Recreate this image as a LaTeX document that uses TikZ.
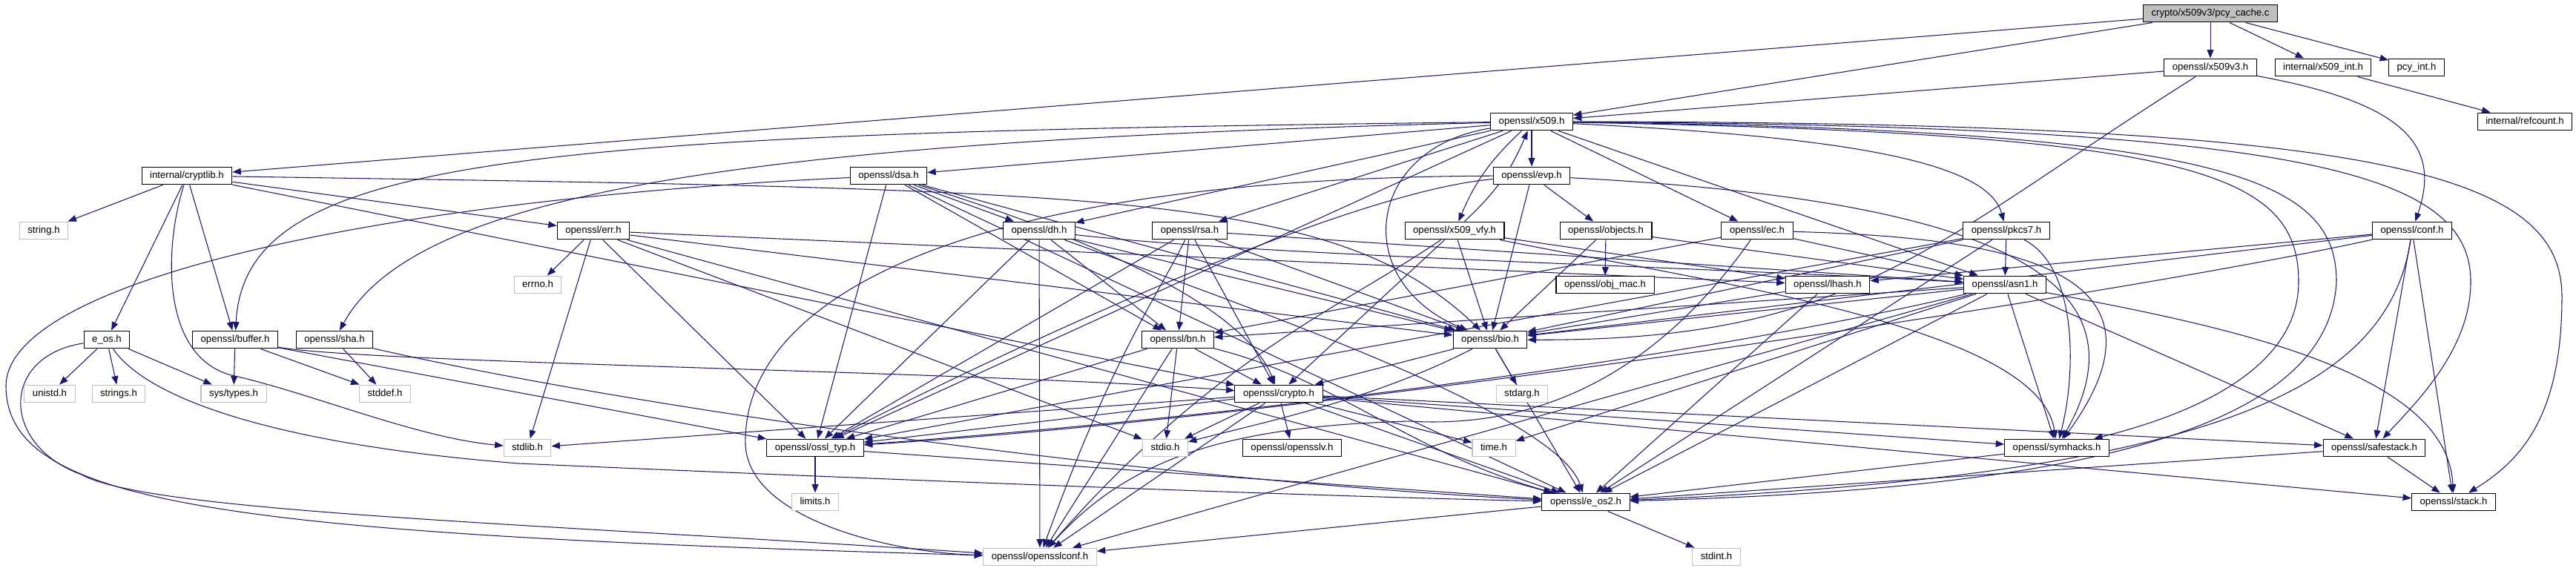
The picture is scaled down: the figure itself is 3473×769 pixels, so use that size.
\documentclass[tikz,border=0pt]{standalone}
\usepackage{fontspec}
\setmainfont{Liberation Sans}
\usetikzlibrary{arrows.meta,backgrounds}
\definecolor{edgeblue}{RGB}{25,25,112}
\definecolor{extgray}{RGB}{191,191,191}
\begin{document}
\begin{tikzpicture}[x=0.02cm, y=-0.02cm,
        hdr/.style={draw=black, fill=white, line width=0.6pt, inner xsep=6.3pt, inner ysep=0pt,
            minimum height=13.6pt, text height=5.4pt, text depth=1.5pt, font=\fontsize{7.5}{9}\selectfont},
        sys/.style={hdr, draw=extgray},
        src/.style={hdr, fill=extgray},
        inc/.style={draw=edgeblue, line width=0.6pt, -{Triangle[length=6.5pt, width=5pt]}}
    ]
        \useasboundingbox (0,0) rectangle (3473,769);

        \node[src] (pcycache) at (2980,18) {crypto/x509v3/pcy\_cache.c};
        \node[hdr] (xvthree) at (2980,91) {openssl/x509v3.h};
        \node[hdr] (x509int) at (3132,91) {internal/x509\_int.h};
        \node[hdr] (pcyint) at (3258,91) {pcy\_int.h};
        \node[hdr] (x509) at (2065,164) {openssl/x509.h};
        \node[hdr] (refcount) at (3404,164) {internal/refcount.h};
        \node[hdr] (cryptlib) at (252,237) {internal/cryptlib.h};
        \node[hdr] (dsa) at (1198,237) {openssl/dsa.h};
        \node[hdr] (evp) at (2065,237) {openssl/evp.h};
        \node[sys] (stringh) at (59,311) {string.h};
        \node[hdr] (err) at (800,311) {openssl/err.h};
        \node[hdr] (dh) at (1401,311) {openssl/dh.h};
        \node[hdr] (rsa) at (1604,311) {openssl/rsa.h};
        \node[hdr] (vfy) at (1961,311) {openssl/x509\_vfy.h};
        \node[hdr] (objects) at (2165,311) {openssl/objects.h};
        \node[hdr] (ec) at (2369,311) {openssl/ec.h};
        \node[hdr] (pkcs7) at (2705,311) {openssl/pkcs7.h};
        \node[hdr] (conf) at (3252,311) {openssl/conf.h};
        \node[sys] (errno) at (725,384) {errno.h};
        \node[hdr] (objmac) at (2164,384) {openssl/obj\_mac.h};
        \node[hdr] (lhash) at (2464,384) {openssl/lhash.h};
        \node[hdr] (asn1) at (2703,384) {openssl/asn1.h};
        \node[hdr] (eos) at (144,458) {e\_os.h};
        \node[hdr] (buffer) at (317,458) {openssl/buffer.h};
        \node[hdr] (sha) at (451,458) {openssl/sha.h};
        \node[hdr] (bn) at (1588,458) {openssl/bn.h};
        \node[hdr] (bio) at (2009,458) {openssl/bio.h};
        \node[sys] (unistd) at (67,531) {unistd.h};
        \node[sys] (strings) at (160,531) {strings.h};
        \node[sys] (systypes) at (315,531) {sys/types.h};
        \node[sys] (stddef) at (519,531) {stddef.h};
        \node[hdr] (crypto) at (1724,531) {openssl/crypto.h};
        \node[sys] (stdarg) at (2052,531) {stdarg.h};
        \node[sys] (stdlib) at (711,604) {stdlib.h};
        \node[hdr] (ossltyp) at (1099,604) {openssl/ossl\_typ.h};
        \node[sys] (stdio) at (1571,604) {stdio.h};
        \node[hdr] (opensslv) at (1742,604) {openssl/opensslv.h};
        \node[sys] (timeh) at (2014,604) {time.h};
        \node[hdr] (symhacks) at (2773,604) {openssl/symhacks.h};
        \node[hdr] (safestack) at (3201,604) {openssl/safestack.h};
        \node[sys] (limits) at (1099,677) {limits.h};
        \node[hdr] (eostwo) at (2138,677) {openssl/e\_os2.h};
        \node[hdr] (stack) at (3308,677) {openssl/stack.h};
        \node[sys] (opensslconf) at (1402,751) {openssl/opensslconf.h};
        \node[sys] (stdint) at (2314,751) {stdint.h};

        \begin{scope}[on background layer]
        % pcy_cache.c
        \draw[inc] (pcycache) -- (cryptlib);
        \draw[inc] (pcycache) -- (x509);
        \draw[inc] (pcycache) -- (xvthree);
        \draw[inc] (pcycache) -- (x509int);
        \draw[inc] (pcycache) -- (pcyint);
        % x509v3.h, x509_int.h
        \draw[inc] (xvthree) -- (x509);
        \draw[inc] (xvthree) .. controls (2600,330) and (2500,460) .. (bio);
        \draw[inc] (xvthree) .. controls (3250,140) and (3290,200) .. (conf);
        \draw[inc] (x509int) -- (refcount);
        % x509.h
        \draw[inc] (x509) -- (evp);
        \draw[inc] (x509) to[bend right=12] (vfy);
        \draw[inc] (x509) -- (dh);
        \draw[inc] (x509) -- (rsa);
        \draw[inc] (x509) -- (dsa);
        \draw[inc] (x509) .. controls (700,180) and (330,210) .. (buffer);
        \draw[inc] (x509) .. controls (1000,190) and (560,260) .. (sha);
        \draw[inc] (x509) .. controls (1840,200) and (1820,380) .. (bio);
        \draw[inc] (x509) -- (ec);
        \draw[inc] (x509) -- (asn1);
        \draw[inc] (x509) .. controls (2500,185) and (2680,220) .. (pkcs7);
        \draw[inc] (x509) -- (ossltyp);
        \draw[inc] (x509) .. controls (2950,180) and (3099,230) .. (3099,380) .. controls (3099,500) and (2950,560) .. (symhacks);
        \draw[inc] (x509) .. controls (3000,175) and (3150,240) .. (3150,380) .. controls (3140,580) and (2800,660) .. (eostwo);
        \draw[inc] (x509) .. controls (3100,170) and (3331,230) .. (3331,380) .. controls (3331,470) and (3260,540) .. (safestack);
        \draw[inc] (x509) .. controls (3200,165) and (3454,230) .. (3454,400) .. controls (3454,560) and (3400,620) .. (stack);
        % x509_vfy.h
        \draw[inc] (vfy) to[bend right=12] (x509);
        \draw[inc] (vfy) .. controls (1800,420) and (1640,480) .. (opensslconf);
        \draw[inc] (vfy) -- (lhash);
        \draw[inc] (vfy) -- (bio);
        \draw[inc] (vfy) -- (crypto);
        \draw[inc] (vfy) .. controls (2300,380) and (2750,440) .. (symhacks);
        % evp.h
        \draw[inc] (evp) .. controls (1250,240) and (1000,420) .. (1005,600) .. controls (1010,700) and (1200,745) .. (opensslconf);
        \draw[inc] (evp) .. controls (1800,260) and (1300,500) .. (ossltyp);
        \draw[inc] (evp) .. controls (2700,270) and (2900,380) .. (symhacks);
        \draw[inc] (evp) -- (bio);
        \draw[inc] (evp) -- (objects);
        % objects.h
        \draw[inc] (objects) -- (objmac);
        \draw[inc] (objects) -- (bio);
        \draw[inc] (objects) -- (asn1);
        % ec.h
        \draw[inc] (ec) .. controls (2250,480) and (2100,580) .. (1900,568) .. controls (1650,575) and (1520,620) .. (opensslconf);
        \draw[inc] (ec) -- (asn1);
        \draw[inc] (ec) .. controls (2700,320) and (2950,360) .. (symhacks);
        \draw[inc] (ec) -- (bn);
        % pkcs7.h
        \draw[inc] (pkcs7) -- (asn1);
        \draw[inc] (pkcs7) -- (bio);
        \draw[inc] (pkcs7) -- (eostwo);
        \draw[inc] (pkcs7) .. controls (2800,360) and (2800,500) .. (symhacks);
        \draw[inc] (pkcs7) -- (ossltyp);
        % rsa.h
        \draw[inc] (rsa) .. controls (1560,400) and (1500,480) .. (opensslconf);
        \draw[inc] (rsa) -- (asn1);
        \draw[inc] (rsa) -- (bio);
        \draw[inc] (rsa) -- (crypto);
        \draw[inc] (rsa) -- (ossltyp);
        \draw[inc] (rsa) -- (bn);
        % dsa.h
        \draw[inc] (dsa) .. controls (500,270) and (10,380) .. (8,520) .. controls (8,680) and (300,720) .. (opensslconf);
        \draw[inc] (dsa) -- (eostwo);
        \draw[inc] (dsa) -- (bio);
        \draw[inc] (dsa) .. controls (1500,330) and (1680,420) .. (crypto);
        \draw[inc] (dsa) -- (ossltyp);
        \draw[inc] (dsa) -- (bn);
        \draw[inc] (dsa) -- (dh);
        % dh.h
        \draw[inc] (dh) -- (opensslconf);
        \draw[inc] (dh) .. controls (1700,420) and (2100,560) .. (eostwo);
        \draw[inc] (dh) -- (bio);
        \draw[inc] (dh) .. controls (1700,345) and (2300,360) .. (asn1);
        \draw[inc] (dh) -- (ossltyp);
        \draw[inc] (dh) -- (bn);
        % sha.h, buffer.h
        \draw[inc] (sha) .. controls (900,560) and (1600,650) .. (eostwo);
        \draw[inc] (sha) -- (stddef);
        \draw[inc] (buffer) -- (ossltyp);
        \draw[inc] (buffer) .. controls (500,490) and (1300,500) .. (crypto);
        \draw[inc] (buffer) -- (stddef);
        \draw[inc] (buffer) -- (systypes);
        % internal/cryptlib.h
        \draw[inc] (cryptlib) -- (stringh);
        \draw[inc] (cryptlib) -- (eos);
        \draw[inc] (cryptlib) -- (buffer);
        \draw[inc] (cryptlib) -- (err);
        \draw[inc] (cryptlib) .. controls (222,330) and (215,480) .. (312,506) .. controls (420,530) and (560,590) .. (stdlib);
        \draw[inc] (cryptlib) -- (crypto);
        \draw[inc] (cryptlib) .. controls (1500,256) and (1800,258) .. (bio);
        % err.h
        \draw[inc] (err) -- (eostwo);
        \draw[inc] (err) -- (stdio);
        \draw[inc] (err) -- (stdlib);
        \draw[inc] (err) -- (ossltyp);
        \draw[inc] (err) -- (bio);
        \draw[inc] (err) -- (lhash);
        \draw[inc] (err) -- (errno);
        % bio.h
        \draw[inc] (bio) -- (eostwo);
        \draw[inc] (bio) .. controls (1850,540) and (1700,570) .. (stdio);
        \draw[inc] (bio) -- (stdarg);
        \draw[inc] (bio) -- (crypto);
        % bn.h
        \draw[inc] (bn) .. controls (1800,510) and (1900,610) .. (eostwo);
        \draw[inc] (bn) -- (stdio);
        \draw[inc] (bn) -- (opensslconf);
        \draw[inc] (bn) -- (ossltyp);
        \draw[inc] (bn) -- (crypto);
        % crypto.h
        \draw[inc] (crypto) -- (stdlib);
        \draw[inc] (crypto) -- (timeh);
        \draw[inc] (crypto) -- (eostwo);
        \draw[inc] (crypto) -- (stdio);
        \draw[inc] (crypto) -- (stack);
        \draw[inc] (crypto) -- (safestack);
        \draw[inc] (crypto) -- (opensslv);
        \draw[inc] (crypto) -- (ossltyp);
        \draw[inc] (crypto) -- (opensslconf);
        \draw[inc] (crypto) -- (symhacks);
        % asn1.h
        \draw[inc] (asn1) -- (timeh);
        \draw[inc] (asn1) -- (eostwo);
        \draw[inc] (asn1) -- (opensslconf);
        \draw[inc] (asn1) -- (bio);
        \draw[inc] (asn1) .. controls (3000,440) and (3300,500) .. (stack);
        \draw[inc] (asn1) -- (safestack);
        \draw[inc] (asn1) -- (symhacks);
        \draw[inc] (asn1) .. controls (2300,480) and (1700,560) .. (ossltyp);
        \draw[inc] (asn1) -- (bn);
        % lhash.h
        \draw[inc] (lhash) -- (eostwo);
        \draw[inc] (lhash) -- (bio);
        % conf.h
        \draw[inc] (conf) -- (bio);
        \draw[inc] (conf) -- (lhash);
        \draw[inc] (conf) -- (stack);
        \draw[inc] (conf) -- (safestack);
        \draw[inc] (conf) .. controls (3220,520) and (3000,640) .. (eostwo);
        \draw[inc] (conf) .. controls (2900,390) and (1800,560) .. (ossltyp);
        % lower headers
        \draw[inc] (ossltyp) -- (eostwo);
        \draw[inc] (ossltyp) -- (limits);
        \draw[inc] (eostwo) -- (opensslconf);
        \draw[inc] (eostwo) -- (stdint);
        \draw[inc] (symhacks) -- (eostwo);
        \draw[inc] (safestack) -- (stack);
        \draw[inc] (safestack) -- (eostwo);
        % e_os.h
        \draw[inc] (eos) .. controls (0,480) and (0,600) .. (110,640) .. controls (200,690) and (700,705) .. (opensslconf);
        \draw[inc] (eos) .. controls (200,540) and (380,600) .. (700,625) .. controls (1500,660) and (1900,672) .. (eostwo);
        \draw[inc] (eos) -- (systypes);
        \draw[inc] (eos) -- (unistd);
        \draw[inc] (eos) -- (strings);
        \end{scope}
    \end{tikzpicture}
\end{document}
